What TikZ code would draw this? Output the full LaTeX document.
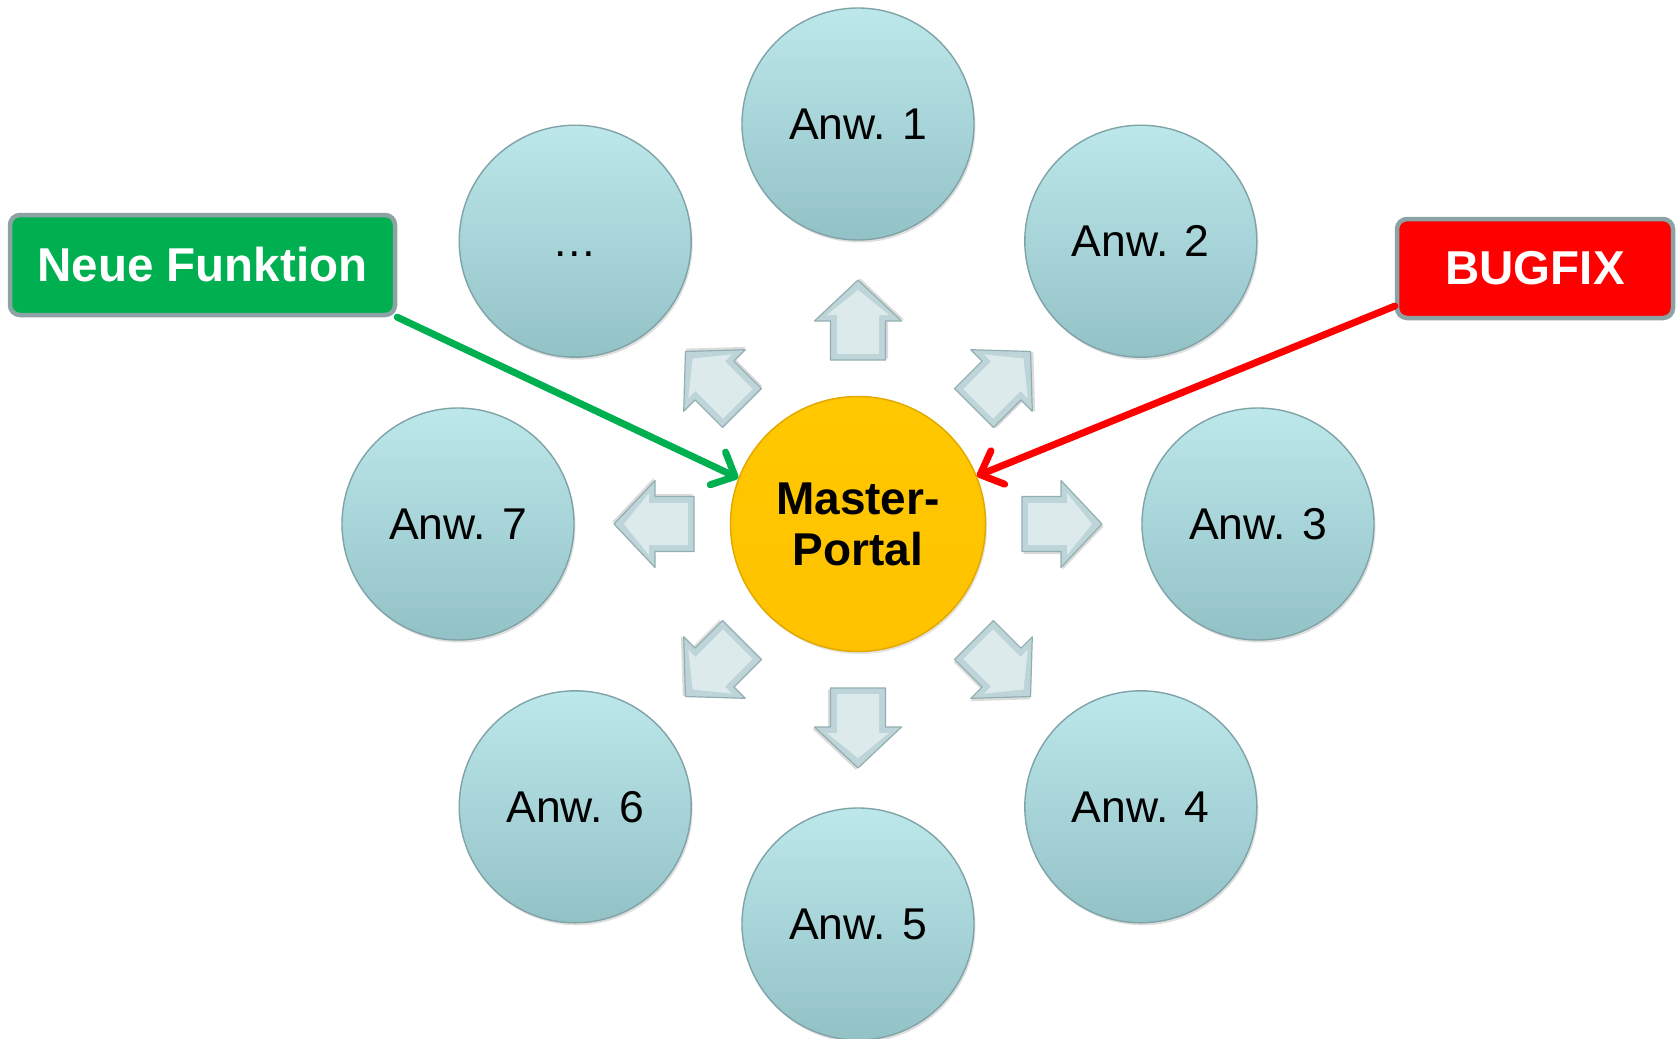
\documentclass[tikz,border=0pt]{standalone}
\usepackage{fontspec}
\setmainfont{Liberation Sans}
\usetikzlibrary{arrows.meta,shadows,calc}

\definecolor{appTop}{HTML}{BCE7EB}
\definecolor{appBot}{HTML}{93C2C6}
\definecolor{appEdge}{HTML}{7FA3A6}
\definecolor{goldFill}{HTML}{FFC800}
\definecolor{goldEdge}{HTML}{E3A900}
\definecolor{arrFace}{HTML}{BDD5D8}
\definecolor{arrLight}{HTML}{DCEAEC}
\definecolor{arrEdge}{HTML}{92AEB1}
\definecolor{boxEdge}{HTML}{8CA2A4}
\definecolor{newGreen}{HTML}{00B050}
\definecolor{fixRed}{HTML}{FF0000}

\begin{document}
\begin{tikzpicture}[x=1pt,y=-1pt,
  app/.style={circle, minimum size=232pt, inner sep=0pt, draw=appEdge,
    line width=1.4pt, top color=appTop, bottom color=appBot,
    drop shadow={shadow xshift=1.5pt, shadow yshift=-2.5pt, opacity=.25},
    font=\fontsize{44.5}{50}\selectfont},
  master/.style={circle, minimum size=255pt, inner sep=0pt, draw=goldEdge,
    line width=1.5pt, top color=goldFill, bottom color=goldFill!92!orange,
    drop shadow={shadow xshift=1.5pt, shadow yshift=-2.5pt, opacity=.22},
    align=center, font=\fontsize{46}{51}\selectfont\bfseries},
  tagbox/.style={rounded corners=10pt, line width=4.5pt, draw=boxEdge,
    inner sep=0pt, text=white, font=\fontsize{47.5}{52}\selectfont\bfseries},
  conn/.style={line width=7pt, line cap=round, line join=round,
    -{Straight Barb[length=19pt,width=36pt,line cap=round,line join=round]}},
  arrowface/.style={fill=arrFace, draw=arrEdge, line width=1.2pt, line join=round},
  arrowlight/.style={fill=arrLight},
]
\useasboundingbox (0,0) rectangle (1677,1038);

% bevelled arrows pointing outwards from the centre
\foreach \a in {0,45,...,315}{
  \begin{scope}[shift={(858,524)}, x=1pt, y=1pt, rotate=\a]
    \fill[black, opacity=.14, shift={(1.5,-2.5)}]
      (164,-27.5) -- (203,-27.5) -- (203,-43.5) -- (244,0) --
      (203,43.5) -- (203,27.5) -- (164,27.5) -- cycle;
    \path[arrowface]
      (164,-27.5) -- (203,-27.5) -- (203,-43.5) -- (244,0) --
      (203,43.5) -- (203,27.5) -- (164,27.5) -- cycle;
    \path[arrowlight]
      (170,-21) -- (209,-21) -- (209,-31) -- (234,0) --
      (209,31) -- (209,21) -- (170,21) -- cycle;
  \end{scope}
}

% applications around the portal
\node[app] (c1) at (858,124)     {Anw. 1};
\node[app] (c2) at (1140.8,241.2) {Anw. 2};
\node[app] (c3) at (1258,524)    {Anw. 3};
\node[app] (c4) at (1140.8,806.8) {Anw. 4};
\node[app] (c5) at (858,924)     {Anw. 5};
\node[app] (c6) at (575.2,806.8) {Anw. 6};
\node[app] (c7) at (458,524)     {Anw. 7};
\node[app] (c0) at (575.2,241.2) {\vphantom{A}…};

% central portal
\node[master] (master) at (858,524) {Master-\\Portal};

% labels
\node[tagbox, fill=newGreen, minimum width=385pt, minimum height=100pt]
  (neu) at (202.5,265) {Neue Funktion};
\node[tagbox, fill=fixRed, minimum width=276pt, minimum height=99pt]
  (bug) at (1535,268.5) {BUGFIX};

% label connectors
\draw[conn, draw=newGreen] (neu.345) -- (master.159);
\draw[conn, draw=fixRed] (bug.195) -- (master.22);
\end{tikzpicture}
\end{document}
